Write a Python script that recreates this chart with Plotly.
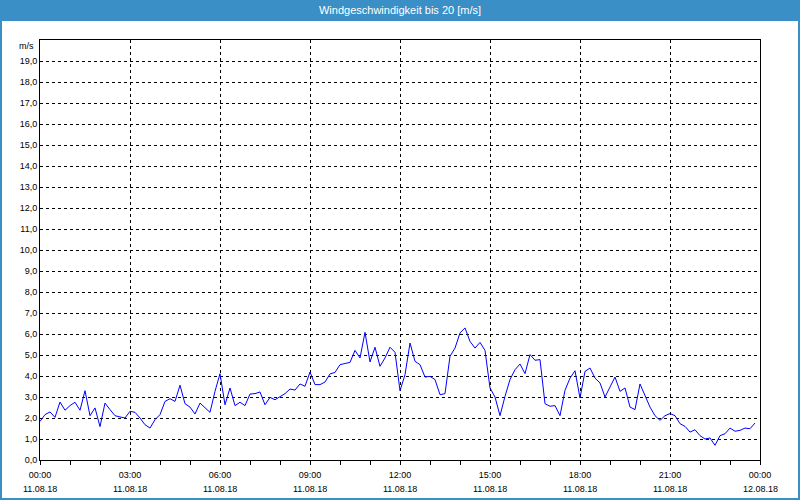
import plotly.graph_objects as go
import pandas as pd

title_text = "Windgeschwindigkeit bis 20 [m/s]"
unit_label = "m/s"
start_time = "2018-08-11 00:00"
end_time = "2018-08-12 00:00"
sample_minutes = 10

wind_speed = [
    # 00:00 - 04:50
    1.84, 2.16, 2.29, 2.03, 2.76, 2.37, 2.59, 2.75, 2.37, 3.30,
    2.11, 2.48, 1.59, 2.71, 2.40, 2.11, 2.05, 2.00, 2.32, 2.27,
    2.00, 1.68, 1.52, 1.92, 2.16, 2.79, 2.92, 2.79, 3.56, 2.68,
    # 05:00 - 09:30
    2.52, 2.19, 2.71, 2.48, 2.27, 3.27, 4.11, 2.63, 3.43, 2.59,
    2.75, 2.59, 3.14, 3.16, 3.24, 2.63, 2.98, 2.87, 3.03, 3.16,
    3.38, 3.33, 3.62, 3.51, 4.19, 3.59, 3.59, 3.71,
    # 09:40 - 14:20
    4.10, 4.17, 4.54, 4.60, 4.65, 5.22, 4.86, 6.08, 4.67, 5.37,
    4.46, 4.86, 5.37, 5.13, 3.30, 4.06, 5.57, 4.70, 4.54, 3.95,
    3.98, 3.83, 3.11, 3.16, 4.94, 5.33, 6.05, 6.29, 5.65,
    # 14:30 - 19:10
    5.33, 5.60, 5.22, 3.43, 3.00, 2.11, 3.03, 3.83, 4.30, 4.57,
    4.11, 5.02, 4.75, 4.78, 2.68, 2.56, 2.59, 2.11, 3.32, 3.90,
    4.25, 2.95, 4.22, 4.38, 3.90, 3.67, 3.00, 3.51, 3.95,
    # 19:20 - 23:50
    3.27, 3.43, 2.52, 2.40, 3.62, 3.06, 2.52, 2.11, 1.89, 2.11,
    2.21, 2.11, 1.73, 1.60, 1.33, 1.44, 1.16, 1.00, 1.05, 0.70,
    1.16, 1.25, 1.52, 1.37, 1.41, 1.52, 1.49, 1.76,
]

x_tick_times = ["2018-08-11 00:00", "2018-08-11 03:00", "2018-08-11 06:00",
                "2018-08-11 09:00", "2018-08-11 12:00", "2018-08-11 15:00",
                "2018-08-11 18:00", "2018-08-11 21:00", "2018-08-12 00:00"]
x_tick_labels = ["00:00", "03:00", "06:00", "09:00", "12:00", "15:00",
                 "18:00", "21:00", "00:00"]
x_date_labels = ["11.08.18", "11.08.18", "11.08.18", "11.08.18", "11.08.18",
                 "11.08.18", "11.08.18", "11.08.18", "12.08.18"]
y_tick_values = list(range(0, 20))
y_tick_labels = [f"{v},0" for v in y_tick_values]

times = pd.date_range(start=start_time, periods=len(wind_speed), freq=f"{sample_minutes}min")

W, H = 800, 500
ML, MR, MT, MB = 40, 40, 40, 40
PW, PH = W - ML - MR, H - MT - MB
bar_color = "#3b8fc7"
font_family = "Liberation Sans, Arial, sans-serif"

fig = go.Figure()
fig.add_trace(go.Scatter(x=times, y=wind_speed, mode="lines",
                         line=dict(color="#0000ff", width=1), hoverinfo="skip"))

annotations = [
    dict(text=unit_label, xref="paper", yref="y", x=0, y=19.7,
         xanchor="right", yanchor="middle", xshift=-4, showarrow=False,
         font=dict(size=9, color="#000000")),
]
for tv, dl in zip(x_tick_times, x_date_labels):
    annotations.append(dict(text=dl, xref="x", yref="paper", x=tv, y=0,
                            xanchor="center", yanchor="middle", yshift=-29,
                            showarrow=False, font=dict(size=9, color="#000000")))

fig.update_layout(
    width=W, height=H,
    margin=dict(l=ML, r=MR, t=MT, b=MB, pad=0),
    paper_bgcolor="#ffffff", plot_bgcolor="#ffffff",
    showlegend=False,
    font=dict(family=font_family, size=9, color="#000000"),
    title=dict(text=title_text, x=0.5, xanchor="center", xref="paper",
               y=1 - 10 / H, yanchor="middle", yref="container",
               font=dict(family=font_family, size=11, color="#ffffff")),
    xaxis=dict(
        type="date", range=[start_time, end_time],
        tickmode="array", tickvals=x_tick_times, ticktext=x_tick_labels,
        ticks="outside", ticklen=4, tickcolor="#000000", tickwidth=1,
        ticklabelstandoff=2,
        minor=dict(dtick=3600000, ticks="outside", ticklen=4, tickcolor="#000000",
                   showgrid=False),
        showgrid=True, gridcolor="#000000", gridwidth=1, griddash="3px,3px",
        showline=True, linecolor="#000000", linewidth=1, mirror=True,
        zeroline=False, tickfont=dict(size=9, color="#000000"),
        fixedrange=True,
    ),
    yaxis=dict(
        range=[0, 20], tickmode="array", tickvals=y_tick_values, ticktext=y_tick_labels,
        ticks="", showgrid=True, gridcolor="#000000", gridwidth=1, griddash="3px,3px",
        showline=True, linecolor="#000000", linewidth=1, mirror=True,
        zeroline=False, tickfont=dict(size=9, color="#000000"),
        fixedrange=True,
    ),
    shapes=[
        dict(type="rect", xref="paper", yref="paper",
             x0=-ML / PW, x1=1 + MR / PW, y0=1 + (MT - 21) / PH, y1=1 + MT / PH,
             fillcolor=bar_color, line=dict(width=0), layer="below"),
        dict(type="rect", xref="paper", yref="paper",
             x0=-(ML - 1) / PW, x1=1 + (MR - 1) / PW,
             y0=-(MB - 1) / PH, y1=1 + (MT - 1) / PH,
             fillcolor="rgba(0,0,0,0)", line=dict(width=2, color=bar_color), layer="below"),
    ],
    annotations=annotations,
)

fig.write_html("out.html")
